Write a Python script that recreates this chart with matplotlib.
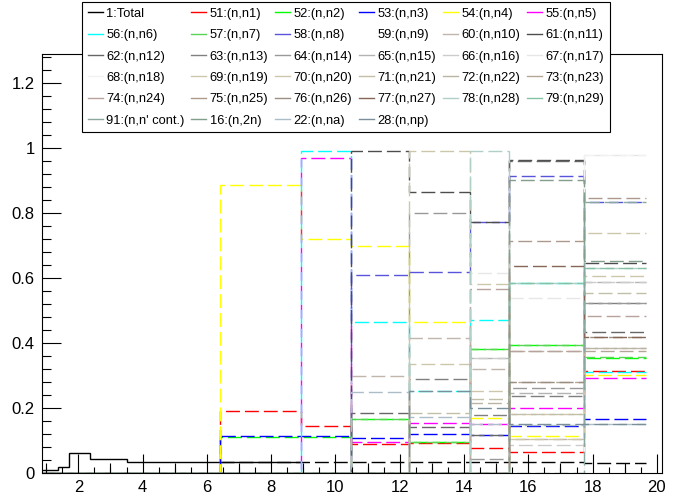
import numpy as np
import matplotlib
matplotlib.use('Agg')
import matplotlib.pyplot as plt
from matplotlib.lines import Line2D
from matplotlib.ticker import MultipleLocator, FuncFormatter

plt.rcParams['font.family'] = ['Liberation Sans', 'DejaVu Sans']
plt.rcParams['lines.scale_dashes'] = False

# bin edges (MeV-like axis), 5 low bins only filled by Total
edges = [0.86, 1.38, 1.72, 2.36, 3.51, 6.41, 8.93, 10.48, 12.30, 14.19, 15.40, 17.72, 19.67]

total_vals = [0.010, 0.020, 0.061, 0.044, 0.034,
              0.034, 0.034, 0.034, 0.034, 0.034, 0.034, 0.033]

labels = ["51:(n,n1)", "52:(n,n2)", "53:(n,n3)", "54:(n,n4)", "55:(n,n5)",
          "56:(n,n6)", "57:(n,n7)", "58:(n,n8)", "59:(n,n9)", "60:(n,n10)",
          "61:(n,n11)", "62:(n,n12)", "63:(n,n13)", "64:(n,n14)", "65:(n,n15)",
          "66:(n,n16)", "67:(n,n17)", "68:(n,n18)", "69:(n,n19)", "70:(n,n20)",
          "71:(n,n21)", "72:(n,n22)", "73:(n,n23)", "74:(n,n24)", "75:(n,n25)",
          "76:(n,n26)", "77:(n,n27)", "78:(n,n28)", "79:(n,n29)", "91:(n,n' cont.)",
          "16:(n,2n)", "22:(n,na)", "28:(n,np)"]

# values in the 7 upper bins (6.41 ... 19.67), one row per channel
values = [
    [0.191, 0.146, 0.090, 0.094, 0.079, 0.066, 0.315],
    [0.110, 0.111, 0.166, 0.097, 0.382, 0.395, 0.353],
    [0.116, 0.115, 0.109, 0.121, 0.119, 0.145, 0.168],
    [0.886, 0.719, 0.698, 0.464, 0.169, 0.115, 0.302],
    [0.000, 0.967, 0.095, 0.155, 0.150, 0.200, 0.292],
    [0.000, 0.990, 0.464, 0.254, 0.471, 0.584, 0.310],
    [0.000, 0.000, 0.166, 0.097, 0.382, 0.395, 0.356],
    [0.000, 0.000, 0.609, 0.619, 0.773, 0.913, 0.833],
    [0.000, 0.000, 0.000, 0.500, 0.614, 0.540, 0.978],
    [0.000, 0.000, 0.299, 0.417, 0.320, 0.104, 0.384],
    [0.000, 0.000, 0.990, 0.865, 0.773, 0.963, 0.647],
    [0.000, 0.000, 0.184, 0.143, 0.119, 0.958, 0.435],
    [0.000, 0.000, 0.000, 0.289, 0.178, 0.238, 0.524],
    [0.000, 0.000, 0.000, 0.800, 0.043, 0.261, 0.524],
    [0.000, 0.000, 0.000, 0.000, 0.353, 0.246, 0.589],
    [0.000, 0.000, 0.000, 0.000, 0.353, 0.087, 0.589],
    [0.000, 0.000, 0.000, 0.000, 0.614, 0.540, 0.978],
    [0.000, 0.000, 0.000, 0.000, 0.000, 0.000, 0.978],
    [0.000, 0.000, 0.000, 0.990, 0.580, 0.104, 0.737],
    [0.000, 0.000, 0.000, 0.335, 0.254, 0.181, 0.607],
    [0.000, 0.000, 0.000, 0.185, 0.227, 0.181, 0.555],
    [0.000, 0.000, 0.000, 0.000, 0.217, 0.377, 0.384],
    [0.000, 0.000, 0.000, 0.000, 0.000, 0.281, 0.376],
    [0.000, 0.000, 0.000, 0.000, 0.565, 0.377, 0.484],
    [0.000, 0.000, 0.000, 0.000, 0.000, 0.714, 0.845],
    [0.000, 0.000, 0.000, 0.000, 0.000, 0.281, 0.418],
    [0.000, 0.000, 0.000, 0.000, 0.000, 0.637, 0.418],
    [0.000, 0.000, 0.000, 0.000, 0.990, 0.584, 0.630],
    [0.000, 0.000, 0.000, 0.000, 0.000, 0.584, 0.630],
    [0.000, 0.000, 0.000, 0.000, 0.000, 0.000, 0.833],
    [0.000, 0.000, 0.000, 0.000, 0.000, 0.901, 0.652],
    [0.000, 0.000, 0.251, 0.173, 0.150, 0.148, 0.150],
    [0.000, 0.000, 0.000, 0.253, 0.200, 0.150, 0.150],
]

# ROOT colour indices 2..34
colors = [(1, 0, 0), (0, 1, 0), (0, 0, 1), (1, 1, 0), (1, 0, 1), (0, 1, 1),
          (0.35, 0.83, 0.33), (0.35, 0.33, 0.85), (1, 1, 1), (0.754, 0.715, 0.676),
          (0.3, 0.3, 0.3), (0.4, 0.4, 0.4), (0.5, 0.5, 0.5), (0.6, 0.6, 0.6),
          (0.7, 0.7, 0.7), (0.8, 0.8, 0.8), (0.9, 0.9, 0.9), (0.95, 0.95, 0.95),
          (0.8, 0.78, 0.67), (0.8, 0.78, 0.67), (0.76, 0.75, 0.66), (0.73, 0.71, 0.64),
          (0.70, 0.65, 0.59), (0.72, 0.64, 0.61), (0.68, 0.60, 0.55), (0.61, 0.56, 0.51),
          (0.53, 0.40, 0.34), (0.69, 0.81, 0.78), (0.52, 0.76, 0.64), (0.54, 0.66, 0.63),
          (0.51, 0.62, 0.55), (0.68, 0.74, 0.78), (0.48, 0.56, 0.60)]

lw = 1.0

fig = plt.figure(figsize=(6.86, 4.99), dpi=100)
ax = fig.add_axes([0.0608, 0.0515, 0.9042, 0.8403])

n_low = len(edges) - 1 - len(values[0])
ax.stairs(total_vals[:n_low + 1], edges[:n_low + 2], baseline=None, color='k', lw=lw)
ax.stairs(total_vals[n_low:], edges[n_low:], baseline=None, color='k', lw=lw,
          ls=(0, (10, 3.6)))

for i, (vals, c) in enumerate(zip(values, colors)):
    full = np.concatenate([np.zeros(n_low), vals])
    ax.stairs(full, edges, baseline=None, color=c, lw=lw,
              ls=((i * 3.7) % 13.6, (10, 3.6)))

ax.set_xlim(0.86, 20.16)
ax.set_ylim(0, 1.288)

for s in ax.spines.values():
    s.set_linewidth(0.8)

ax.xaxis.set_major_locator(MultipleLocator(2))
ax.xaxis.set_minor_locator(MultipleLocator(0.5))
ax.yaxis.set_major_locator(MultipleLocator(0.2))
ax.yaxis.set_minor_locator(MultipleLocator(0.04))
ax.yaxis.set_major_formatter(FuncFormatter(lambda v, p: f'{v:g}'))
ax.tick_params(which='both', direction='in', width=0.8, labelsize=12)
ax.tick_params(axis='both', which='major', length=13.5, pad=5)
ax.tick_params(axis='x', which='minor', length=4.3)
ax.tick_params(axis='y', which='minor', length=6.7)

# medium ticks at odd integers
sec = ax.secondary_xaxis('bottom')
sec.set_xticks(np.arange(1, 21, 2))
sec.tick_params(direction='in', length=7, width=0.8, labelbottom=False)
sec.spines['bottom'].set_visible(False)

# legend, ROOT fills row by row
names = ["1:Total"] + labels
handles = [Line2D([], [], color='k', lw=lw)] + [Line2D([], [], color=c, lw=lw) for c in colors]
ncol = 6
order = [i for c in range(ncol) for i in range(c, len(names), ncol)]
leg = fig.legend([handles[i] for i in order], [names[i] for i in order], ncol=ncol,
                 loc='upper left', bbox_to_anchor=(82 / 686, 1 - 2 / 499),
                 fontsize=9.3, frameon=True, fancybox=False, framealpha=1,
                 edgecolor='k', borderpad=0.45, labelspacing=0.72,
                 handlelength=1.14, handletextpad=0.3, columnspacing=0.5,
                 borderaxespad=0)
leg.get_frame().set_linewidth(0.8)

fig.savefig('out.png', dpi=100)
